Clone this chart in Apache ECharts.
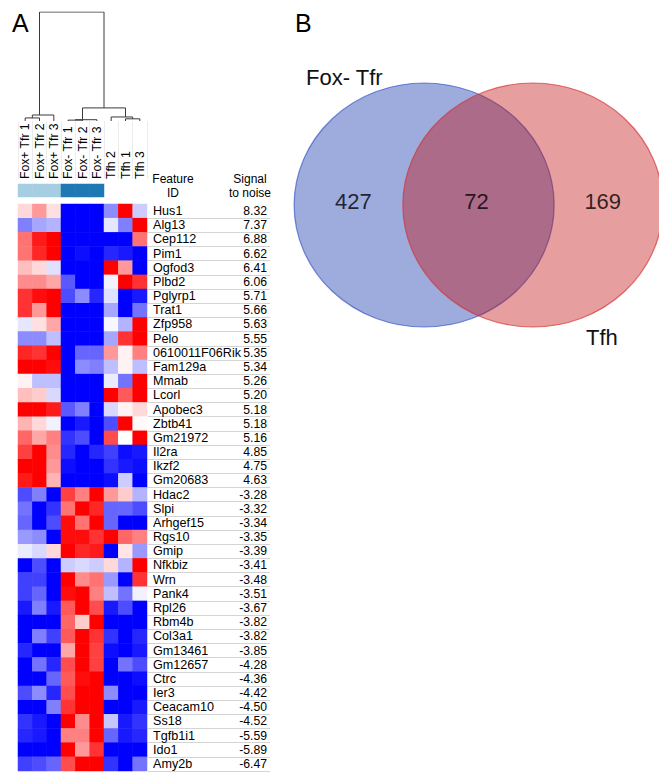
<!DOCTYPE html>
<html><head><meta charset="utf-8">
<script src="https://cdn.jsdelivr.net/npm/echarts@6/dist/echarts.min.js"></script>
<style>html,body{margin:0;padding:0;background:#fff}#c{width:659px;height:772px}</style>
</head><body><div id="c"></div>
<script>
// ---------- DATA ----------
const sampleLabels = ['Fox+ Tfr 1','Fox+ Tfr 2','Fox+ Tfr 3','Fox- Tfr 1','Fox- Tfr 2','Fox- Tfr 3','Tfh 2','Tfh 1','Tfh 3'];
const sampleGroup = [1,1,1,2,2,2,0,0,0]; // 1 = Fox+ Tfr, 2 = Fox- Tfr, 0 = none
const genes = ['Hus1','Alg13','Cep112','Pim1','Ogfod3','Plbd2','Pglyrp1','Trat1','Zfp958','Pelo',
  '0610011F06Rik','Fam129a','Mmab','Lcorl','Apobec3','Zbtb41','Gm21972','Il2ra','Ikzf2','Gm20683',
  'Hdac2','Slpi','Arhgef15','Rgs10','Gmip','Nfkbiz','Wrn','Pank4','Rpl26','Rbm4b',
  'Col3a1','Gm13461','Gm12657','Ctrc','Ier3','Ceacam10','Ss18','Tgfb1i1','Ido1','Amy2b'];
const signalToNoise = ['8.32','7.37','6.88','6.62','6.41','6.06','5.71','5.66','5.63','5.55',
  '5.35','5.34','5.26','5.20','5.18','5.18','5.16','4.85','4.75','4.63',
  '-3.28','-3.32','-3.34','-3.35','-3.39','-3.41','-3.48','-3.51','-3.67','-3.82',
  '-3.82','-3.85','-4.28','-4.36','-4.42','-4.50','-4.52','-5.59','-5.89','-6.47'];
// relative expression (row-scaled), one row per gene, columns in sampleLabels order
const upGenesExpr = [
  [0.15,0.4,0.12,-1,-1,-1,-0.45,1,-0.2],
  [-0.5,-0.35,-0.3,-1,-1,-1,-0.1,-0.5,1],
  [0.55,0.9,1,-1,-1,-1,-1,-1,0.55],
  [0.55,0.85,1,-1,-0.95,-1,-0.85,-0.9,-1],
  [0.25,0.15,-0.12,-1,-1,-1,1,0.4,-1],
  [0.45,0.45,0.35,-0.65,-1,-1,-0.05,1,0.8],
  [0.8,0.95,1,-0.7,-0.45,-0.85,-0.12,-1,-0.9],
  [0.8,0.4,1,-1,-1,-1,-0.35,-1,-0.55],
  [-0.1,0.12,0.35,-1,-1,-1,-0.03,-0.3,1],
  [-0.45,-0.45,-0.25,-1,-1,-1,-0.35,0.8,1],
  [0.85,0.8,1,-1,-0.6,-0.6,0.4,0.05,0.5],
  [1,1,0.95,-1,-0.45,-0.5,-0.25,0.05,-0.25],
  [0.05,-0.25,-0.25,-1,-1,-1,-0.08,-0.55,1],
  [0.25,0.2,-0.15,-1,-1,-1,1,0.65,1],
  [1,1,0.9,-0.65,-0.5,-1,-0.15,0.05,0.15],
  [0.3,0.15,-0.05,-1,-0.9,-1,-0.7,1,0.02],
  [0.6,0.35,0.5,-0.8,-0.7,-1,0.7,0,1],
  [0.75,1,0.45,-0.85,-1,-0.85,-0.75,-0.95,-0.9],
  [1,1,0.4,-0.95,-1,-1,-0.8,-0.9,-0.95],
  [0.9,1,0.3,-1,-1,-1,-0.95,-0.2,-1]
];
const downGenesExpr = [
  [-0.7,-0.5,-1,0.75,0.5,1,0.4,0.2,-0.3],
  [-0.55,-1,-0.8,0.55,1,0.85,-0.6,-0.6,-0.7],
  [-0.6,-1,-0.7,0.95,0.55,1,-0.6,-1,-1],
  [-0.4,-0.45,-1,0.95,0.95,0.8,1,0.6,0.5],
  [-0.08,-0.15,0.15,1,0.85,0.9,-1,0.1,-0.4],
  [-1,-0.7,-1,-0.2,-0.15,-0.2,0.15,-0.3,1],
  [-0.75,-0.75,-1,1,0.45,0.55,-0.4,-1,0.8],
  [-0.75,-0.6,-1,0.95,1,0.5,-0.25,-0.55,-0.05],
  [-0.9,-0.5,-0.9,0.65,1,0.7,-0.9,-0.7,-1],
  [-1,-1,-1,0.6,0.2,1,-1,-1,-1],
  [-1,-0.5,-0.75,0.65,1,0.8,-0.8,-1,-0.85],
  [-0.85,-1,-1,0.35,1,0.75,-0.95,-1,-0.9],
  [-1,-0.55,-0.85,0.7,1,0.75,-1,-0.55,-0.7],
  [-1,-1,-0.6,0.65,0.95,1,-1,-1,-0.95],
  [-0.7,-0.45,-0.85,0.7,1,1,-0.45,-1,-1],
  [-1,-1,-0.5,0.8,1,1,-1,-1,-0.9],
  [-0.8,-0.9,-1,1,0.45,1,-0.22,-0.9,-0.8],
  [-0.85,-0.9,-1,0.5,0.5,1,-0.6,-0.9,-0.85],
  [-1,-1,-1,1,0.4,0.8,-1,-1,-1],
  [-0.75,-0.7,-0.6,0.7,1,1,-0.8,-1,-0.55]
];
// dendrogram merges: [childA, childB, height]; leaves 0..8 (heatmap column order), new nodes 9..
const dendroMerges = [
  [0,1,0.028],[9,2,0.055],
  [3,4,0.008],[11,5,0.012],
  [7,8,0.02],[6,13,0.037],
  [12,14,0.12],[10,15,1.0]
];
// Venn
const vennSetNames = ['Fox- Tfr','Tfh'];
const vennCounts = [427, 72, 169]; // Fox- Tfr only, both, Tfh only

// ---------- BUILD ----------
const expr = upGenesExpr.concat(downGenesExpr);
const heatData = [];
expr.forEach((row, r) => row.forEach((v, c) => heatData.push([c, r, v])));
const annoData = [];
sampleGroup.forEach((g, c) => { if (g) annoData.push([c, 0, g]); });

const nodeX = [], nodeH = [], nodeN = [];
for (let i = 0; i < sampleLabels.length; i++) { nodeX.push(i + 0.5); nodeH.push(0); nodeN.push(1); }
const dendroLines = dendroMerges.map(([a, b, h]) => {
  const n = nodeN[a] + nodeN[b];
  nodeX.push((nodeX[a] * nodeN[a] + nodeX[b] * nodeN[b]) / n);
  nodeH.push(h); nodeN.push(n);
  return { coords: [[nodeX[a], nodeH[a]], [nodeX[a], h], [nodeX[b], h], [nodeX[b], nodeH[b]]] };
});

const FONT = '"Liberation Sans", Arial, Helvetica, sans-serif';
const ellipse = 'path://M0,50A50,50,0,1,1,100,50A50,50,0,1,1,0,50Z';

const chart = echarts.init(document.getElementById('c'), null, { renderer: 'svg' });
chart.setOption({
  animation: false,
  backgroundColor: '#fff',
  textStyle: { fontFamily: FONT },
  grid: [
    { left: 18, top: 204, width: 129, height: 567 },   // 0 heatmap
    { left: 18, top: 184, width: 86, height: 13 },     // 1 annotation bar
    { left: 148, top: 204, width: 122, height: 567 },  // 2 table
    { left: 18, top: 12, width: 129, height: 109 },    // 3 dendrogram
    { left: 18, top: 121, width: 129, height: 58 },    // 4 label separators
    { left: 298, top: 83, width: 372, height: 244 }    // 5 venn
  ],
  xAxis: [
    { gridIndex: 0, type: 'category', data: sampleLabels, show: false },
    { gridIndex: 1, type: 'category', data: sampleLabels.slice(0, 6), show: false },
    { gridIndex: 2, type: 'value', min: 0, max: 1, show: false },
    { gridIndex: 3, type: 'value', min: 0, max: 9, show: false },
    { gridIndex: 4, type: 'category', data: sampleLabels, position: 'bottom',
      axisLine: { show: false }, axisTick: { show: false },
      axisLabel: { show: true, rotate: 90, margin: 0, interval: 0, fontSize: 12.2, color: '#000',
        fontFamily: FONT, align: 'left', verticalAlign: 'middle' },
      splitLine: { show: true, lineStyle: { color: '#ececec', width: 1 } } },
    { gridIndex: 5, type: 'value', min: -1.431, max: 1.431, show: false }
  ],
  yAxis: [
    { gridIndex: 0, type: 'category', data: genes, inverse: true, show: false },
    { gridIndex: 1, type: 'category', data: ['group'], show: false },
    { gridIndex: 2, type: 'category', data: genes, inverse: true, position: 'left',
      axisLine: { show: false }, axisTick: { show: false },
      axisLabel: { inside: true, margin: 5, interval: 0,
        formatter: (v, i) => '{n|' + v + '}{v|' + signalToNoise[i] + '}',
        rich: { n: { width: 78, fontSize: 12.6, color: '#000', fontFamily: FONT },
                v: { width: 36, align: 'right', fontSize: 12.2, color: '#000', fontFamily: FONT } } },
      splitLine: { show: true, showMinLine: false, lineStyle: { color: '#d4d4d4', width: 1 } } },
    { gridIndex: 3, type: 'value', min: 0, max: 1, show: false },
    { gridIndex: 4, type: 'value', min: 0, max: 1, show: false },
    { gridIndex: 5, type: 'value', min: -1, max: 1, show: false }
  ],
  visualMap: [
    { type: 'continuous', seriesIndex: 0, min: -1, max: 1, show: false,
      inRange: { color: ['#0000ff', '#ffffff', '#ff0000'] } },
    { type: 'piecewise', seriesIndex: 1, show: false,
      pieces: [{ value: 1, color: '#a6cee3' }, { value: 2, color: '#1f78b4' }] }
  ],
  series: [
    { type: 'heatmap', xAxisIndex: 0, yAxisIndex: 0, data: heatData, progressive: 0,
      itemStyle: { borderWidth: 0 }, emphasis: { disabled: true } },
    { type: 'heatmap', xAxisIndex: 1, yAxisIndex: 1, data: annoData, emphasis: { disabled: true } },
    { type: 'lines', coordinateSystem: 'cartesian2d', xAxisIndex: 3, yAxisIndex: 3, polyline: true,
      data: dendroLines, silent: true, lineStyle: { color: '#3a3a3a', width: 1, opacity: 1 } },
    { type: 'scatter', xAxisIndex: 5, yAxisIndex: 5, symbol: ellipse, symbolSize: [260, 244],
      clip: false, silent: true,
      data: [
        { value: [-0.431, 0], itemStyle: { color: 'rgba(9,45,169,0.5)', borderColor: 'rgba(40,70,190,0.75)', borderWidth: 1.2 } },
        { value: [0.431, 0], itemStyle: { color: 'rgba(193,13,13,0.5)', borderColor: 'rgba(215,50,50,0.85)', borderWidth: 1.2 } }
      ] },
    { type: 'scatter', xAxisIndex: 5, yAxisIndex: 5, symbolSize: 1, clip: false, silent: true,
      itemStyle: { color: 'transparent' },
      label: { show: true, position: 'inside', fontSize: 22, color: '#000', fontFamily: FONT,
        formatter: p => String(p.value[2]) },
      data: [[-0.992, 0.025, vennCounts[0]], [-0.015, 0.025, vennCounts[1]], [0.985, 0.025, vennCounts[2]]] }
  ],
  graphic: [
    { type: 'text', left: 12, top: 10, style: { text: 'A', fontSize: 25, fill: '#000', fontFamily: FONT } },
    { type: 'text', left: 295, top: 10, style: { text: 'B', fontSize: 25, fill: '#000', fontFamily: FONT } },
    { type: 'text', x: 173, y: 186, style: { text: 'Feature\nID', fontSize: 12, lineHeight: 14, fill: '#000',
      align: 'center', verticalAlign: 'middle', fontFamily: FONT } },
    { type: 'text', x: 250, y: 186, style: { text: 'Signal\nto noise', fontSize: 12, lineHeight: 14, fill: '#000',
      align: 'center', verticalAlign: 'middle', fontFamily: FONT } },
    { type: 'text', x: 306, y: 77, style: { text: vennSetNames[0], fontSize: 22, fill: '#111',
      align: 'left', verticalAlign: 'middle', fontFamily: FONT } },
    { type: 'text', x: 586, y: 337, style: { text: vennSetNames[1], fontSize: 22, fill: '#111',
      align: 'left', verticalAlign: 'middle', fontFamily: FONT } }
  ]
});
</script></body></html>
